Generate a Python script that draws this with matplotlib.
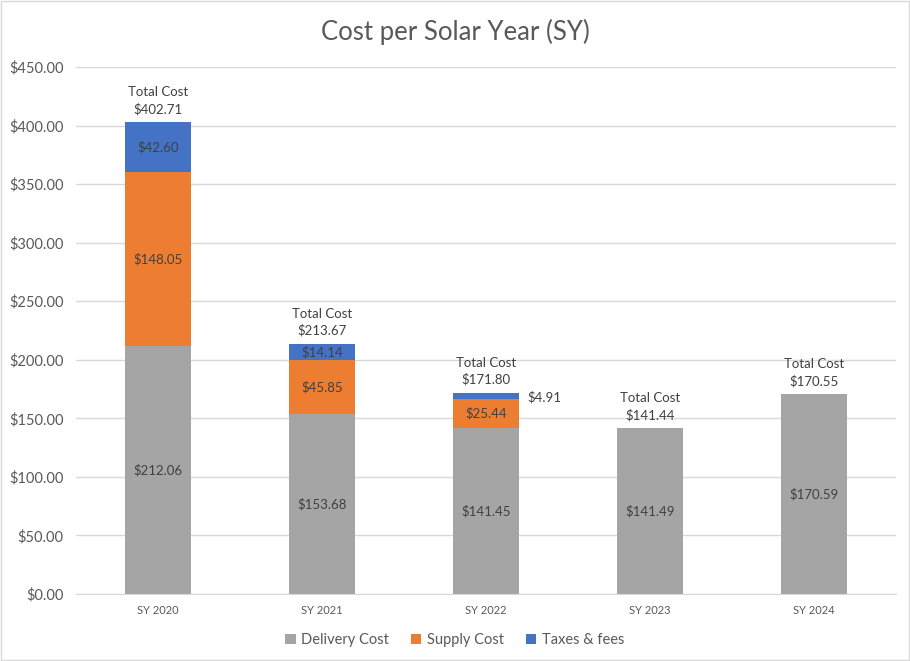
import matplotlib.pyplot as plt
from matplotlib.patches import Rectangle

plt.rcParams['font.family'] = ['Lato', 'DejaVu Sans']

years = ['SY 2020', 'SY 2021', 'SY 2022', 'SY 2023', 'SY 2024']
delivery = [212.06, 153.68, 141.45, 141.49, 170.59]
supply = [148.05, 45.85, 25.44, 0, 0]
taxes = [42.60, 14.14, 4.91, 0, 0]
totals = [402.71, 213.67, 171.80, 141.44, 170.55]

grey = '#A5A5A5'
orange = '#ED7D31'
blue = '#4472C4'
txt = '#404040'
tick = '#595959'

fig = plt.figure(figsize=(9.1, 6.61), dpi=100)
fig.patches.append(Rectangle((0.001, 0.001), 0.998, 0.998, transform=fig.transFigure,
                             fill=False, edgecolor='#D9D9D9', linewidth=1))
ax = fig.add_axes([0.0835, 0.1014, 0.901, 0.7972])

x = list(range(len(years)))
w = 0.4
b1 = ax.bar(x, delivery, w, color=grey, label='Delivery Cost', zorder=3)
bottom2 = delivery
b2 = ax.bar(x, supply, w, bottom=bottom2, color=orange, label='Supply Cost', zorder=3)
bottom3 = [d + s for d, s in zip(delivery, supply)]
b3 = ax.bar(x, taxes, w, bottom=bottom3, color=blue, label='Taxes & fees', zorder=3)

for i in x:
    ax.text(i, delivery[i] / 2, '${:.2f}'.format(delivery[i]), ha='center', va='center',
            fontsize=9.5, color=txt, zorder=4)
    if supply[i] > 0:
        ax.text(i, delivery[i] + supply[i] / 2, '${:.2f}'.format(supply[i]), ha='center',
                va='center', fontsize=9.5, color=txt, zorder=4)
    if taxes[i] > 8:
        ax.text(i, bottom3[i] + taxes[i] / 2, '${:.2f}'.format(taxes[i]), ha='center',
                va='center', fontsize=9.5, color=txt, zorder=4)
    elif taxes[i] > 0:
        ax.annotate('${:.2f}'.format(taxes[i]), (i + w / 2, bottom3[i] + taxes[i] / 2),
                    xytext=(6, -1), textcoords='offset points', ha='left', va='center',
                    fontsize=9.5, color=txt, zorder=4)
    top = bottom3[i] + taxes[i]
    ax.annotate('Total Cost\n${:.2f}'.format(totals[i]), (i, top), xytext=(0, 5),
                textcoords='offset points', ha='center', va='bottom', fontsize=9.5,
                color=txt, linespacing=1.45)

ax.set_ylim(0, 450)
ax.set_xlim(-0.5, 4.5)
ax.set_yticks(range(0, 451, 50))
ax.set_yticklabels(['${:.2f}'.format(v) for v in range(0, 451, 50)])
ax.set_xticks(x)
ax.set_xticklabels(years)
ax.tick_params(axis='y', length=0, labelsize=10.5, labelcolor=tick, pad=9)
ax.tick_params(axis='x', length=0, labelsize=8, labelcolor=tick, pad=8)
ax.grid(axis='y', color='#D9D9D9', linewidth=1, zorder=0)
for s in ['top', 'right', 'left']:
    ax.spines[s].set_visible(False)
ax.spines['bottom'].set_color('#D9D9D9')

fig.suptitle('Cost per Solar Year (SY)', y=0.972, fontsize=18.5, color=tick)
fig.legend(handles=[b1, b2, b3], loc='center', bbox_to_anchor=(0.5, 0.032), ncol=3,
           frameon=False, fontsize=10.5, labelcolor=tick, handlelength=0.7,
           handleheight=0.7, handletextpad=0.4, columnspacing=1.5)

fig.savefig('out.png', dpi=100)
